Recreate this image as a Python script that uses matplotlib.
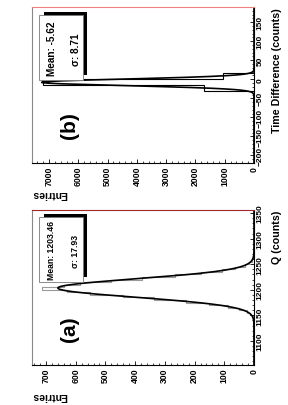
import numpy as np
import matplotlib
matplotlib.use('Agg')
import matplotlib.pyplot as plt
from matplotlib.patches import Rectangle
from matplotlib.ticker import MultipleLocator, AutoMinorLocator

plt.rcParams['font.family'] = ['Liberation Sans', 'DejaVu Sans']
plt.rcParams['font.weight'] = 'bold'

W, H = 288, 406

# panel (a): charge spectrum, 5-count bins
q_edges = np.arange(1125, 1290, 5)
q_counts = [0, 0, 1, 2, 5, 13, 24, 51, 86, 152, 228, 338, 440, 552, 630, 712,
            640, 585, 482, 378, 266, 180, 106, 64, 31, 17, 7, 3, 1, 0, 0, 0]
q_mean, q_sigma = 1203.46, 17.93
q_fit = (1203.46, 17.93, 660)      # centre, sigma, amplitude

# panel (b): time difference, 16-count bins (only non-empty ones)
t_edges = [-32, -16, 0, 16]
t_counts = [1700, 7200, 1050]
t_mean, t_sigma = -5.62, 8.71
t_fit = (-8.0, 8.71, 7250)


def fx(x):
    return x / W


def fy(y):
    return 1 - y / H


def px_rect(l, t, r, b):
    return [fx(l), fy(b), (r - l) / W, (b - t) / H]


def gauss(x, c, s, a):
    return a * np.exp(-0.5 * ((x - c) / s) ** 2)


def draw_panel(ax, edges, counts, fit, hist_color, ylim, xmax, ymajor, xmajor, top_color):
    ax.stairs(counts, edges, orientation='horizontal', baseline=0,
              color=hist_color, lw=0.8)
    yy = np.linspace(ylim[0], ylim[1], 1500)
    ax.plot(gauss(yy, *fit), yy, color='black', lw=1.2)
    ax.set_ylim(*ylim)
    ax.set_xlim(xmax, 0)
    ax.xaxis.set_major_locator(MultipleLocator(xmajor))
    ax.xaxis.set_minor_locator(AutoMinorLocator(5))
    ax.yaxis.set_major_locator(MultipleLocator(ymajor))
    ax.yaxis.set_minor_locator(AutoMinorLocator(5))
    ax.yaxis.tick_right()
    ax.tick_params(axis='x', which='both', direction='in', bottom=True, top=False,
                   labelrotation=90, labelsize=6.2, pad=2)
    ax.tick_params(axis='y', which='both', direction='in', left=False, right=True,
                   labelright=True, labelleft=False, labelrotation=90,
                   labelsize=6.0, pad=2)
    ax.tick_params(which='major', length=3, width=0.6)
    ax.tick_params(which='minor', length=1.5, width=0.5)
    for lab in ax.get_yticklabels():
        lab.set_va('center')
    ax.spines['top'].set_color(top_color)
    ax.spines['left'].set_color('#888888')
    for sp in ax.spines.values():
        sp.set_linewidth(0.8)


def stats_box(fig, top, mean_txt, sig_txt, fs):
    # shadow then box, coordinates in pixels
    fig.add_artist(Rectangle((fx(44), fy(top + 60)), 43 / W, 63 / H,
                             transform=fig.transFigure, facecolor='black',
                             edgecolor='none'))
    fig.add_artist(Rectangle((fx(39), fy(top + 65)), 44 / W, 65 / H,
                             transform=fig.transFigure, facecolor='white',
                             edgecolor='#777777', lw=0.6))
    fig.text(fx(52), fy(top + 33), mean_txt, rotation=90, fontsize=fs,
             ha='center', va='center', fontweight='bold')
    fig.text(fx(76), fy(top + 34), sig_txt, rotation=90, fontsize=fs,
             ha='center', va='center', fontweight='bold')


fig = plt.figure(figsize=(W / 100, H / 100), dpi=100)

ax_b = fig.add_axes(px_rect(32, 8, 254, 164))
ax_a = fig.add_axes(px_rect(32, 211, 254, 366))

draw_panel(ax_b, t_edges, t_counts, t_fit, 'black', (-220, 190), 7580,
           50, 1000, '#ee8080')
draw_panel(ax_a, q_edges, q_counts, q_fit, '#999999', (1053, 1356), 747,
           50, 100, '#a02828')

# axis titles
fig.text(fx(277), fy(8), 'Time Difference (counts)', rotation=90, fontsize=7.7,
         ha='center', va='top', fontweight='bold')
fig.text(fx(277), fy(211), 'Q (counts)', rotation=90, fontsize=7.7,
         ha='center', va='top', fontweight='bold')
fig.text(fx(32), fy(194.5), 'Entries', rotation=180, fontsize=7.5,
         ha='left', va='center', fontweight='bold')
fig.text(fx(32), fy(396.5), 'Entries', rotation=180, fontsize=7.5,
         ha='left', va='center', fontweight='bold')

# panel letters
fig.text(fx(70), fy(126), '(b)', rotation=90, fontsize=15, ha='center',
         va='center', fontweight='bold')
fig.text(fx(69), fy(329), '(a)', rotation=90, fontsize=15, ha='center',
         va='center', fontweight='bold')

stats_box(fig, 16, 'Mean: %.2f' % t_mean, '\u03c3: %.2f' % t_sigma, 7.2)
stats_box(fig, 218, 'Mean: %.2f' % q_mean, '\u03c3: %.2f' % q_sigma, 6.2)

fig.savefig('out.png', dpi=100)
